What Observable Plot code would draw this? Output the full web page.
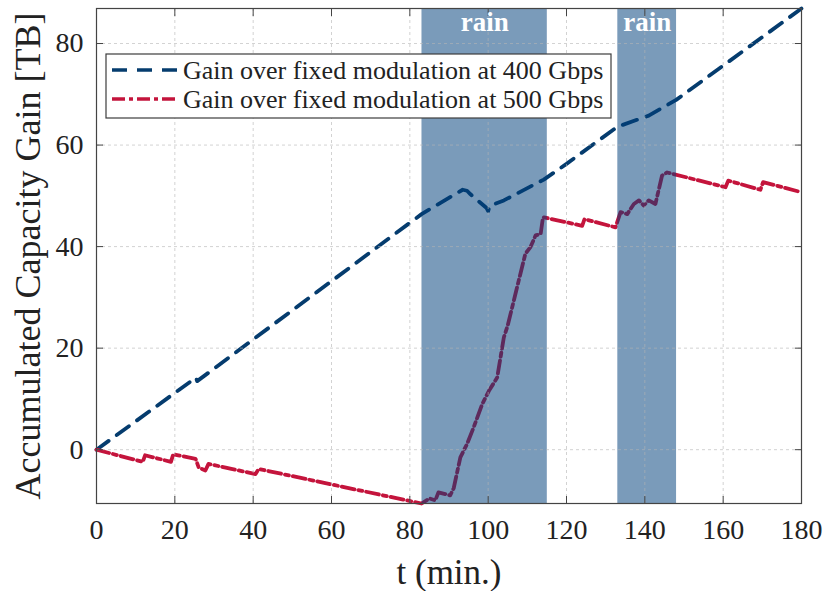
<!DOCTYPE html>
<html>
<head>
<meta charset="utf-8">
<script src="https://cdn.jsdelivr.net/npm/d3@7"></script>
<script src="https://cdn.jsdelivr.net/npm/@observablehq/plot@0.6"></script>
<style>
  body { margin: 0; background: #fff; }
  #chart svg { display: block; }
</style>
</head>
<body>
<div id="chart"></div>
<script>
// Axis ticks
const tTicks = [0, 20, 40, 60, 80, 100, 120, 140, 160, 180];
const gainTicks = [0, 20, 40, 60, 80];

// Rain periods (minutes)
const rainStart = [83.1, 133.1];
const rainEnd = [115.1, 148.1];
const rainLabel = ["rain", "rain"];

// Accumulated gain over fixed modulation at 400 Gbps
const t400 = [0, 25.4, 25.7, 83, 93.5, 94.6, 95.5, 99.6, 100, 100.4, 104, 114.2, 120, 133, 141, 148, 180];
const gain400 = [0, 14.2, 13.5, 46.4, 51.2, 51.0, 50.3, 47.6, 47.0, 48.0, 49.1, 53.2, 56.3, 63.6, 65.8, 68.9, 86.9];

// Accumulated gain over fixed modulation at 500 Gbps
const t500 = [0, 11.8, 12.4, 19.0, 19.6, 25.3, 26.1, 27.8, 28.6, 40.6, 41.4, 83,
  85, 86.5, 87.3, 90.3, 91.2, 92.9, 94.6, 96.3, 98.5, 100.2, 102.3, 104, 105, 107.8,
  109.5, 110.8, 112.1, 113.4, 114,
  124, 124.6, 132.5, 133.8, 135.5, 137.2, 138.5, 139.7, 141, 142.7, 144.4, 145.7,
  160.6, 161.3, 169.5, 170.2, 180];
const gain500 = [0, -2.4, -1.1, -2.4, -0.9, -1.8, -3.5, -4.1, -2.8, -4.8, -3.8, -10.6,
  -9.6, -10.0, -8.4, -9.0, -7.6, -1.5, 1.1, 4.4, 9.0, 11.6, 14.2, 22.1, 24.5, 33.3,
  38.6, 39.9, 42.2, 42.5, 45.8,
  44.1, 45.4, 43.8, 46.8, 46.4, 48.4, 49.1, 48.1, 49.1, 48.4, 54.0, 54.6,
  51.7, 53.0, 51.2, 52.7, 50.7];

const seriesNames = ["Gain over fixed modulation at 400 Gbps", "Gain over fixed modulation at 500 Gbps"];
const seriesColors = ["#053c6e", "#c4143c"];
const seriesDash = ["15,10", "13,4,4,4"];

const serif = "'Liberation Serif', 'Times New Roman', serif";

const line400 = t400.map((t, i) => ({t, v: gain400[i]}));
const line500 = t500.map((t, i) => ({t, v: gain500[i]}));
const rain = rainStart.map((s, i) => ({x1: s, x2: rainEnd[i], label: rainLabel[i]}));

// Boxed legend in the upper-left corner of the plot frame
function legendMark(index, scales, values, dims) {
  const g = d3.create("svg:g");
  const x0 = dims.marginLeft + 10, y0 = dims.marginTop + 46;
  g.append("rect")
    .attr("x", x0).attr("y", y0).attr("width", 505).attr("height", 64)
    .attr("fill", "white").attr("stroke", "#3c3c3c").attr("stroke-width", 1.2);
  seriesNames.forEach((name, i) => {
    const cy = y0 + 16 + i * 29;
    g.append("line")
      .attr("x1", x0 + 6).attr("x2", x0 + 72).attr("y1", cy).attr("y2", cy)
      .attr("stroke", seriesColors[i]).attr("stroke-width", 3.5)
      .attr("stroke-dasharray", seriesDash[i]);
    g.append("text")
      .attr("x", x0 + 77).attr("y", cy + 9)
      .attr("text-anchor", "start")
      .attr("font-family", serif).attr("font-size", 26).attr("fill", "#222")
      .text(name);
  });
  return g.node();
}

const chart = Plot.plot({
  width: 828,
  height: 591,
  marginLeft: 96,
  marginRight: 27,
  marginTop: 8,
  marginBottom: 88,
  style: {fontFamily: serif, background: "white", color: "#222"},
  x: {domain: [0, 180]},
  y: {domain: [-10.6, 86.9]},
  marks: [
    Plot.line(line400, {x: "t", y: "v", stroke: seriesColors[0], strokeWidth: 3.8, strokeDasharray: seriesDash[0]}),
    Plot.line(line500, {x: "t", y: "v", stroke: seriesColors[1], strokeWidth: 3.8, strokeDasharray: seriesDash[1]}),
    Plot.rect(rain, {x1: "x1", x2: "x2", fill: "#003f7a", fillOpacity: 0.52}),
    Plot.gridX(tTicks, {stroke: "#b4b4b4", strokeOpacity: 0.6, strokeDasharray: "3,3"}),
    Plot.gridY(gainTicks, {stroke: "#b4b4b4", strokeOpacity: 0.6, strokeDasharray: "3,3"}),
    Plot.frame({stroke: "#444", strokeWidth: 1.2}),
    Plot.axisX(tTicks, {anchor: "bottom", tickSize: -7, tickPadding: 23, fontSize: 28, label: null, stroke: "#444"}),
    Plot.axisX(tTicks, {anchor: "top", tickSize: -7, tickFormat: () => "", label: null, stroke: "#444"}),
    Plot.axisY(gainTicks, {anchor: "left", tickSize: -7, tickPadding: 20, fontSize: 28, label: null, stroke: "#444"}),
    Plot.axisY(gainTicks, {anchor: "right", tickSize: -7, tickFormat: () => "", label: null, stroke: "#444"}),
    Plot.text(rain, {x: d => (d.x1 + d.x2) / 2, text: "label", frameAnchor: "top", lineAnchor: "middle", dy: 14, fill: "white", fontWeight: "bold", fontSize: 27}),
    Plot.text(["Accumulated Capacity Gain [TB]"], {frameAnchor: "left", textAnchor: "middle", lineAnchor: "middle", rotate: -90, dx: -68, fontSize: 36, fill: "#222"}),
    Plot.text(["t (min.)"], {frameAnchor: "bottom", lineAnchor: "middle", dy: 69, fontSize: 35, fill: "#222"}),
    legendMark
  ]
});

document.getElementById("chart").append(chart);
</script>
</body>
</html>
